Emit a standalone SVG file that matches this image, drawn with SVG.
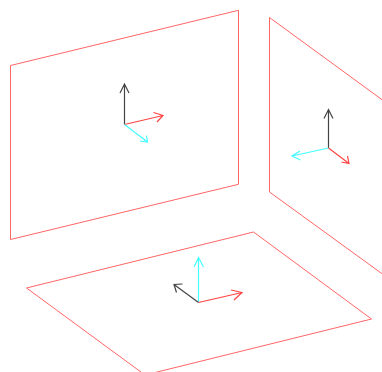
<svg xmlns="http://www.w3.org/2000/svg" width="382" height="372" viewBox="0 0 382 372">
<style>
.p{fill:none;stroke:#ff6666;stroke-width:1}
.a{fill:none;stroke-width:1.2}
.k{stroke:#444444}
.r{stroke:#ff4444}
.c{stroke:#44ffff}
</style>
<rect width="382" height="372" fill="#ffffff"/>
<g id="plane-left"><path class="p" d="M10.500 65.500L238.500 10.300V184.300L10.500 239.500Z"/></g>
<g id="plane-right"><path class="p" d="M382 99.700L269.500 17.500V192L382 273.700"/></g>
<g id="plane-bottom"><path class="p" d="M26.500 288L253.500 232L371.500 319L145 375Z"/></g>
<g id="connectors">
<g id="axes-left">
<path class="a k" d="M124.500 124.500V84M120 93L124.500 84L129 93"/>
<path class="a r" d="M124.500 124.500L163 115.500M153.500 112.500L163 115.500L157 122"/>
<path class="a c" d="M124.500 124.500L147.500 142M140 141L147.500 142L146.500 135.500"/>
</g>
<g id="axes-right">
<path class="a k" d="M328.500 148V109.500M324 118.500L328.500 109.500L333 118.500"/>
<path class="a c" d="M328.500 148L292 156M300 151L292 156L300.500 160"/>
<path class="a r" d="M328.500 148L349 163.500M347.500 156L349 163.500L341.500 162"/>
</g>
<g id="axes-bottom">
<path class="a c" d="M198.500 302.500V257.500M194 267L198.500 257.500L203.500 267"/>
<path class="a k" d="M198.500 302.500L174 284.500M182.500 284L174 284.500L176.500 292.500"/>
<path class="a r" d="M198.500 302.500L242 292.500M231 290L242 292.500L234 300"/>
</g>
</g>
</svg>
